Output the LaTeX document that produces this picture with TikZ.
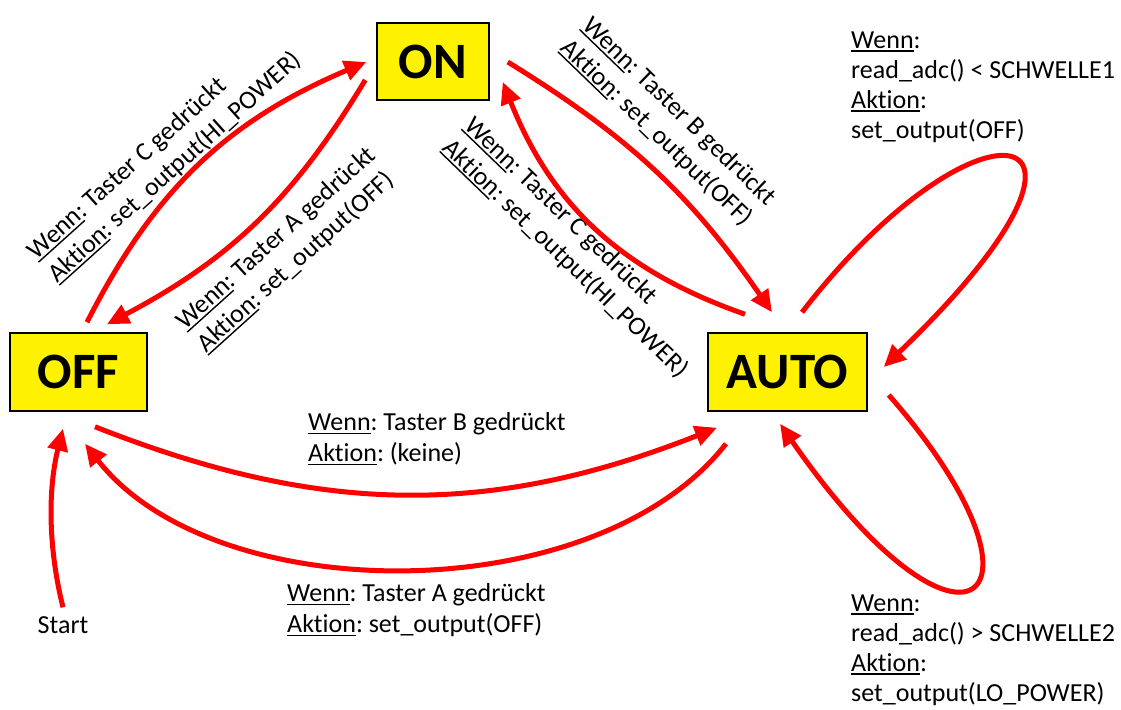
\documentclass[tikz,border=0pt]{standalone}
\usepackage{fontspec}
\setmainfont{Carlito}[Ligatures=NoCommon]
\usetikzlibrary{arrows.meta}
\newcommand{\undl}[1]{\setbox0\hbox{#1}\rlap{\rule[-3.5pt]{\wd0}{1.4pt}}\box0}
\frenchspacing
\begin{document}
\begin{tikzpicture}[x=1pt,y=-1pt,
  box/.style={draw=black, line width=1.5pt, fill=yellow, inner sep=0pt,
    font=\fontsize{51}{51}\selectfont\bfseries},
  lbl/.style={inner sep=0pt, align=left, font=\fontsize{26}{31}\selectfont},
  lblr/.style={inner sep=0pt, align=left, font=\fontsize{26}{30}\selectfont},
  arr/.style={draw=red, line width=5pt, -{Triangle[length=22pt,width=20pt]}}]
\useasboundingbox (0,0) rectangle (1121,709);
% states
\node[box, minimum width=137pt, minimum height=78pt] (off) at (78.5,372) {OFF};
\node[box, minimum width=112pt, minimum height=77pt] (on) at (433,61.5) {ON};
\node[box, minimum width=159pt, minimum height=78pt] (auto) at (787.5,372) {AUTO};
\node[lbl] (start) at (63,625) {Start};
% labels
\node[lbl, rotate=42] (la) at (165,156) {\undl{Wenn}: Taster C gedrückt\\\undl{Aktion}: set\_output(HI\_POWER)};
\node[lbl, rotate=42] (lb) at (287,250) {\undl{Wenn}: Taster A gedrückt\\\undl{Aktion}: set\_output(OFF)};
\node[lbl, rotate=-44] (lc) at (668,123) {\undl{Wenn}: Taster B gedrückt\\\undl{Aktion}: set\_output(OFF)};
\node[lbl, rotate=-44] (ld) at (576,248) {\undl{Wenn}: Taster C gedrückt\\\undl{Aktion}: set\_output(HI\_POWER)};
\node[lbl, anchor=west] (le) at (308,439) {\undl{Wenn}: Taster B gedrückt\\\undl{Aktion}: (keine)};
\node[lbl, anchor=west] (lf) at (287,610) {\undl{Wenn}: Taster A gedrückt\\\undl{Aktion}: set\_output(OFF)};
\node[lblr, anchor=west] (lg) at (851,87) {\undl{Wenn}:\\read\_adc() < SCHWELLE1\\\undl{Aktion}:\\set\_output(OFF)};
\node[lblr, anchor=west] (lh) at (851,650) {\undl{Wenn}:\\read\_adc() > SCHWELLE2\\\undl{Aktion}:\\set\_output(LO\_POWER)};
% transitions
\draw[arr] ([shift={(8.5,-10)}]off.north) .. controls +(68,-134) and +(-138,58.5) .. ([shift={(-10,0.5)}]on.west);
\draw[arr] ([shift={(-11,18.5)}]on.west) .. controls +(-72.1,119.6) and +(123.3,-65.4) .. ([shift={(28.5,-8)}]off.north);
\draw[arr] ([shift={(18,0.5)}]on.east) .. controls +(121.8,75) and +(-81.4,-117.6) .. ([shift={(-15.5,-20)}]auto.north);
\draw[arr] ([shift={(-42.5,-18)}]auto.north) .. controls +(-124.5,-43.5) and +(48.7,122.5) .. ([shift={(13,20.5)}]on.east);
\draw[arr] ([shift={(16.5,15)}]off.south) .. controls +(226.5,89.3) and +(-226.5,89.3) .. ([shift={(-70.5,16)}]auto.south);
\draw[arr] ([shift={(-61.5,32)}]auto.south) .. controls +(-130,166.7) and +(130,166.7) .. ([shift={(6.5,32)}]off.south);
\draw[arr] ([shift={(0,-9)}]start.north) .. controls +(-15,-60) and +(-15,60) .. ([shift={(-15.5,17)}]off.south);
\draw[arr] ([shift={(14.5,-20)}]auto.north) .. controls +(177,-229) and +(266,-255) .. ([shift={(16,-5)}]auto.east);
\draw[arr] ([shift={(21,23)}]auto.east) .. controls +(180,205) and +(185,267) .. ([shift={(-7.5,12)}]auto.south);
\end{tikzpicture}
\end{document}
